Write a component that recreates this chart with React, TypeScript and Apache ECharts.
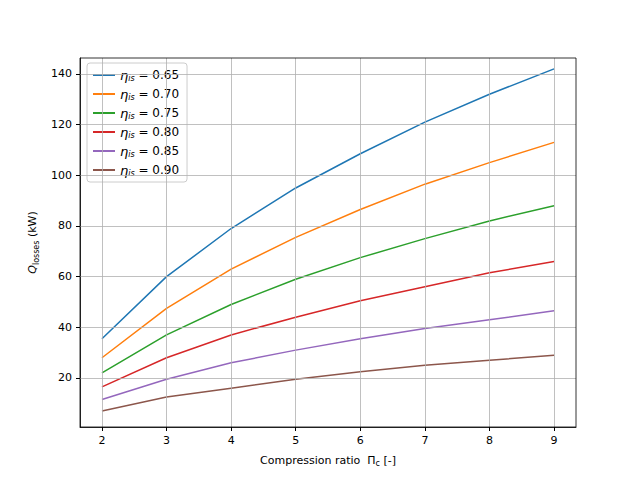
import React, { useEffect, useRef } from "react";
import * as echarts from "echarts";

const ratios = [2, 3, 4, 5, 6, 7, 8, 9];
const etaLabels = ["0.65", "0.70", "0.75", "0.80", "0.85", "0.90"];
const s065 = [35.5, 60, 79, 95, 108.5, 121, 132, 142];
const s070 = [28, 47.5, 63, 75.5, 86.5, 96.5, 105, 113];
const s075 = [22, 37, 49, 59, 67.5, 75, 82, 88];
const s080 = [16.5, 28, 37, 44, 50.5, 56, 61.5, 66];
const s085 = [11.5, 19.5, 26, 31, 35.5, 39.5, 43, 46.5];
const s090 = [7, 12.5, 16, 19.5, 22.5, 25, 27, 29];
const yTicks = [20, 40, 60, 80, 100, 120, 140];
const colors = ["#1f77b4", "#ff7f0e", "#2ca02c", "#d62728", "#9467bd", "#8c564b"];

export default function App() {
  const ref = useRef<HTMLDivElement>(null);
  useEffect(() => {
    const chart = echarts.init(ref.current!, undefined, { renderer: "svg" });
    const all = [s065, s070, s075, s080, s085, s090];
    const series: any[] = all.map((d, i) => ({
      name: "eta " + etaLabels[i],
      type: "line",
      data: d.map((v, j) => [ratios[j], v]),
      symbol: "none",
      lineStyle: { color: colors[i], width: 1.5 },
      itemStyle: { color: colors[i] },
      z: 3,
    }));
    series.push({
      name: "grid",
      type: "line",
      data: [],
      silent: true,
      markLine: {
        silent: true,
        symbol: "none",
        label: { show: false },
        lineStyle: { color: "#b0b0b0", width: 0.8, type: "solid" },
        data: [
          ...ratios.map((x) => ({ xAxis: x })),
          ...yTicks.map((y) => ({ yAxis: y })),
        ],
      },
      z: 1,
    });
    chart.setOption({
      animation: false,
      grid: { left: 80, right: 64, top: 58, bottom: 53, containLabel: false },
      legend: {
        data: series.slice(0, 6).map((s) => s.name),
        orient: "vertical",
        left: 87,
        top: 63,
        itemGap: 5,
        itemWidth: 22,
        itemHeight: 14,
        icon: "path://M0,6 L22,6 L22,8 L0,8 Z",
        backgroundColor: "rgba(255,255,255,0.85)",
        borderColor: "#cccccc",
        borderWidth: 1,
        borderRadius: 3,
        padding: [5, 8, 5, 6],
        formatter: (n: string) => "{e|η}{s|is}{t| = " + n.slice(4) + "}",
        textStyle: {
          rich: {
            e: { fontFamily: "DejaVu Sans", fontStyle: "italic", fontSize: 13, color: "#000", lineHeight: 14 },
            s: { fontFamily: "DejaVu Sans", fontStyle: "italic", fontSize: 8, color: "#000", padding: [6, 0, 0, 0], lineHeight: 14 },
            t: { fontFamily: "DejaVu Sans", fontSize: 12, color: "#000", lineHeight: 14 },
          },
        },
      },
      xAxis: {
        type: "value",
        min: 1.66,
        max: 9.34,
        name: "{n|Compression ratio  Π}{s|c}{n| [-]}",
        nameLocation: "middle",
        nameGap: 26,
        nameTextStyle: {
          rich: {
            n: { fontFamily: "DejaVu Sans", fontSize: 11, color: "#000" },
            s: { fontFamily: "DejaVu Sans", fontSize: 8, color: "#000", padding: [6, 0, 0, 0] },
          },
        },
        axisLine: { onZero: false, lineStyle: { color: "#000", width: 0.8 } },
        axisTick: { customValues: ratios, length: 4, lineStyle: { color: "#000" } },
        axisLabel: { customValues: ratios, color: "#000", fontFamily: "DejaVu Sans", fontSize: 11 },
        splitLine: { show: false },
      },
      yAxis: {
        type: "value",
        min: 0.66,
        max: 146.3,
        name: "{q|Q}{s|losses}{n| (kW)}",
        nameLocation: "middle",
        nameGap: 38,
        nameRotate: 90,
        nameTextStyle: {
          rich: {
            q: { fontFamily: "DejaVu Sans", fontStyle: "italic", fontSize: 11, color: "#000" },
            s: { fontFamily: "DejaVu Sans", fontSize: 8, color: "#000", padding: [8, 0, 0, 0] },
            n: { fontFamily: "DejaVu Sans", fontSize: 11, color: "#000" },
          },
        },
        axisLine: { show: true, onZero: false, lineStyle: { color: "#000", width: 0.8 } },
        axisTick: { show: true, customValues: yTicks, length: 4, lineStyle: { color: "#000" } },
        axisLabel: { customValues: yTicks, color: "#000", fontFamily: "DejaVu Sans", fontSize: 11 },
        splitLine: { show: false },
      },
      graphic: [
        { type: "rect", shape: { x: 80, y: 58, width: 496, height: 369 }, style: { fill: "none", stroke: "#000", lineWidth: 0.8 }, z: 10, silent: true },
      ],
      series,
    });
    return () => chart.dispose();
  }, []);
  return <div ref={ref} style={{ width: 640, height: 480, margin: -8 }} />;
}
